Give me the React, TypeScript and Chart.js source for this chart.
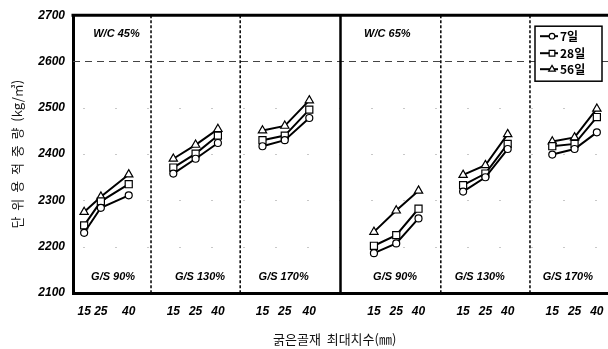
import React, { useEffect, useRef } from 'react';
import { Chart, registerables } from 'chart.js';

Chart.register(...registerables);

// ---- data ----
const sizes = ['15', '25', '40'];
const panelLabels = ['G/S 90%', 'G/S 130%', 'G/S 170%', 'G/S 90%', 'G/S 130%', 'G/S 170%'];
const groupLabels = ['W/C 45%', 'W/C 65%'];
const seriesNames = ['7일', '28일', '56일'];
const day7 = [
  [2230, 2284, 2311],
  [2358, 2390, 2424],
  [2417, 2430, 2478],
  [2186, 2207, 2261],
  [2319, 2350, 2411],
  [2399, 2411, 2447],
];
const day28 = [
  [2246, 2298, 2335],
  [2371, 2401, 2440],
  [2430, 2440, 2496],
  [2202, 2225, 2282],
  [2333, 2358, 2422],
  [2417, 2422, 2480],
];
const day56 = [
  [2275, 2308, 2356],
  [2390, 2420, 2454],
  [2451, 2461, 2516],
  [2232, 2278, 2321],
  [2355, 2376, 2443],
  [2427, 2436, 2498],
];
const yMin = 2100;
const yMax = 2700;
const yStep = 100;
const refLine = 2600;

// ---- layout (axis units) ----
const panelWidths = [7, 8, 9, 9, 8, 7];
const pointOffsets = [
  [1, 2.5, 5],
  [2, 4, 6],
  [2, 4, 6.2],
  [3, 5, 7],
  [2, 4, 6],
  [2, 4, 6],
];
const panelLabelOffsets = [3.6, 4.4, 3.9, 4.9, 3.5, 3.4];
const groupLabelPos = [3.9, 28.2];
const solidDividerIndex = 3;

const panelStarts: number[] = [];
panelWidths.reduce((acc, w) => {
  panelStarts.push(acc);
  return acc + w;
}, 0);
const xTotal = panelWidths.reduce((a, b) => a + b, 0);
const xTickValues = panelStarts.flatMap((s, p) => pointOffsets[p].map((o) => s + o));

const seriesValues = [day7, day28, day56];
const pointStyles = ['circle', 'rect', 'triangle'];
const pointRadii = [3.5, 5, 4.8];

const numFont = "'Liberation Sans', Arial, sans-serif";
const krFont = "'Noto Sans CJK KR', 'Noto Sans', sans-serif";

function buildData(vals: number[][]) {
  const out: { x: number; y: number | null }[] = [];
  vals.forEach((row, p) => {
    row.forEach((v, k) => out.push({ x: panelStarts[p] + pointOffsets[p][k], y: v }));
    out.push({ x: panelStarts[p] + panelWidths[p] - 0.5, y: null });
  });
  return out;
}

const decorPlugin = {
  id: 'decor',
  beforeDatasetsDraw(chart: any) {
    const { ctx, chartArea, scales } = chart;
    const xs = scales.x;
    const ys = scales.y;
    ctx.save();
    // faint grid dashes
    ctx.strokeStyle = '#c8c8c8';
    ctx.lineWidth = 1;
    ctx.setLineDash([2, 30]);
    for (let v = yMin + yStep; v < refLine; v += yStep) {
      const y = Math.round(ys.getPixelForValue(v)) + 0.5;
      ctx.beginPath();
      ctx.moveTo(chartArea.left + 10, y);
      ctx.lineTo(chartArea.right, y);
      ctx.stroke();
    }
    // reference dashed line
    ctx.strokeStyle = '#444';
    ctx.lineWidth = 1;
    ctx.setLineDash([7, 5]);
    const yr = Math.round(ys.getPixelForValue(refLine)) + 0.5;
    ctx.beginPath();
    ctx.moveTo(chartArea.left, yr);
    ctx.lineTo(chartArea.right, yr);
    ctx.stroke();
    // dividers
    panelStarts.forEach((s, i) => {
      if (i === 0) return;
      const x = xs.getPixelForValue(s);
      ctx.beginPath();
      if (i === solidDividerIndex) {
        ctx.setLineDash([]);
        ctx.lineWidth = 2.5;
        ctx.strokeStyle = '#000';
      } else {
        ctx.setLineDash([3, 2]);
        ctx.lineWidth = 1.5;
        ctx.strokeStyle = '#000';
      }
      ctx.moveTo(x, chartArea.top);
      ctx.lineTo(x, chartArea.bottom);
      ctx.stroke();
    });
    ctx.restore();
  },
  afterDraw(chart: any) {
    const { ctx, chartArea, scales } = chart;
    const xs = scales.x;
    const ys = scales.y;
    ctx.save();
    // top border
    ctx.setLineDash([]);
    ctx.strokeStyle = '#000';
    ctx.lineWidth = 3;
    ctx.beginPath();
    ctx.moveTo(chartArea.left - 1.5, chartArea.top);
    ctx.lineTo(chartArea.right, chartArea.top);
    ctx.stroke();
    // annotations
    ctx.fillStyle = '#000';
    ctx.font = `italic bold 11px ${numFont}`;
    ctx.textAlign = 'center';
    ctx.textBaseline = 'middle';
    groupLabels.forEach((t, i) => {
      ctx.fillText(t, xs.getPixelForValue(groupLabelPos[i]), ys.getPixelForValue(2660));
    });
    panelLabels.forEach((t, p) => {
      ctx.fillText(t, xs.getPixelForValue(panelStarts[p] + panelLabelOffsets[p]), ys.getPixelForValue(2134));
    });
    // legend box
    const bw = 67;
    const bh = 55;
    const bx = chartArea.right - 6 - bw;
    const by = chartArea.top + 11;
    ctx.fillStyle = '#fff';
    ctx.fillRect(bx, by, bw, bh);
    ctx.strokeStyle = '#000';
    ctx.lineWidth = 1.5;
    ctx.strokeRect(bx, by, bw, bh);
    const rowY = [10, 27, 43];
    chart.data.datasets.forEach((ds: any, i: number) => {
      const y = by + rowY[i];
      ctx.strokeStyle = '#000';
      ctx.lineWidth = 2;
      ctx.beginPath();
      ctx.moveTo(bx + 5, y);
      ctx.lineTo(bx + 23, y);
      ctx.stroke();
      ctx.fillStyle = '#fff';
      ctx.lineWidth = 1.2;
      const r = ds.pointRadius * 0.8;
      ctx.beginPath();
      if (ds.pointStyle === 'circle') {
        ctx.arc(bx + 17, y, r, 0, Math.PI * 2);
      } else if (ds.pointStyle === 'rect') {
        const s = r * Math.SQRT1_2;
        ctx.rect(bx + 17 - s, y - s, 2 * s, 2 * s);
      } else {
        ctx.moveTo(bx + 17, y - r);
        ctx.lineTo(bx + 17 + r * 0.866, y + r * 0.5);
        ctx.lineTo(bx + 17 - r * 0.866, y + r * 0.5);
        ctx.closePath();
      }
      ctx.fill();
      ctx.stroke();
      ctx.fillStyle = '#000';
      ctx.font = `bold 12px ${krFont}`;
      ctx.textAlign = 'left';
      ctx.textBaseline = 'middle';
      ctx.fillText(ds.label, bx + 25, y);
    });
    ctx.restore();
  },
};

export default function App() {
  const ref = useRef<HTMLCanvasElement>(null);
  useEffect(() => {
    if (!ref.current) return;
    const chart = new Chart(ref.current, {
      type: 'line',
      data: {
        datasets: seriesNames.map((name, i) => ({
          label: name,
          data: buildData(seriesValues[i]),
          borderColor: '#000',
          borderWidth: 2,
          backgroundColor: '#fff',
          pointStyle: pointStyles[i] as any,
          pointRadius: pointRadii[i],
          pointBorderWidth: 1.2,
          pointBackgroundColor: '#fff',
          pointBorderColor: '#000',
          spanGaps: false,
          tension: 0,
        })),
      },
      options: {
        animation: false,
        responsive: false,
        devicePixelRatio: 1,
        layout: { autoPadding: false, padding: { top: 11, right: 0, left: 0, bottom: 0 } },
        plugins: { legend: { display: false }, tooltip: { enabled: false } },
        scales: {
          x: {
            type: 'linear',
            min: 0,
            max: xTotal,
            afterFit: (s: any) => {
              s.height = 56;
              s.paddingRight = 0;
              s.paddingLeft = 0;
            },
            afterBuildTicks: (axis: any) => {
              axis.ticks = xTickValues.map((v) => ({ value: v }));
            },
            grid: { display: false, drawTicks: false },
            border: { display: true, color: '#000', width: 3 },
            ticks: {
              autoSkip: false,
              maxRotation: 0,
              padding: 11,
              color: '#000',
              font: { family: numFont, size: 12, weight: 'bold', style: 'italic' },
              callback: (_v: any, i: number) => sizes[i % sizes.length],
            },
            title: {
              display: true,
              text: '굵은골재  최대치수(㎜)    ',
              color: '#111',
              font: { family: krFont, size: 13 },
              padding: { top: 0, bottom: 2 },
            },
          },
          y: {
            type: 'linear',
            min: yMin,
            max: yMax,
            afterFit: (s: any) => {
              s.width = 73;
            },
            grid: { display: false, drawTicks: false },
            border: { display: true, color: '#000', width: 3 },
            ticks: {
              stepSize: yStep,
              padding: 8,
              color: '#000',
              font: { family: numFont, size: 12, weight: 'bold', style: 'italic' },
              callback: (v: any) => String(v),
            },
            title: {
              display: true,
              text: '단  위  용  적  중  량  (kg/㎥)',
              color: '#111',
              font: { family: krFont, size: 13 },
              padding: { top: 9, bottom: 0 },
            },
          },
        },
      },
      plugins: [decorPlugin],
    });
    return () => chart.destroy();
  }, []);
  return (
    <div style={{ position: 'fixed', left: 0, top: 0, width: 608, height: 349, background: '#fff' }}>
      <canvas ref={ref} width={608} height={349} style={{ display: 'block' }} />
    </div>
  );
}
